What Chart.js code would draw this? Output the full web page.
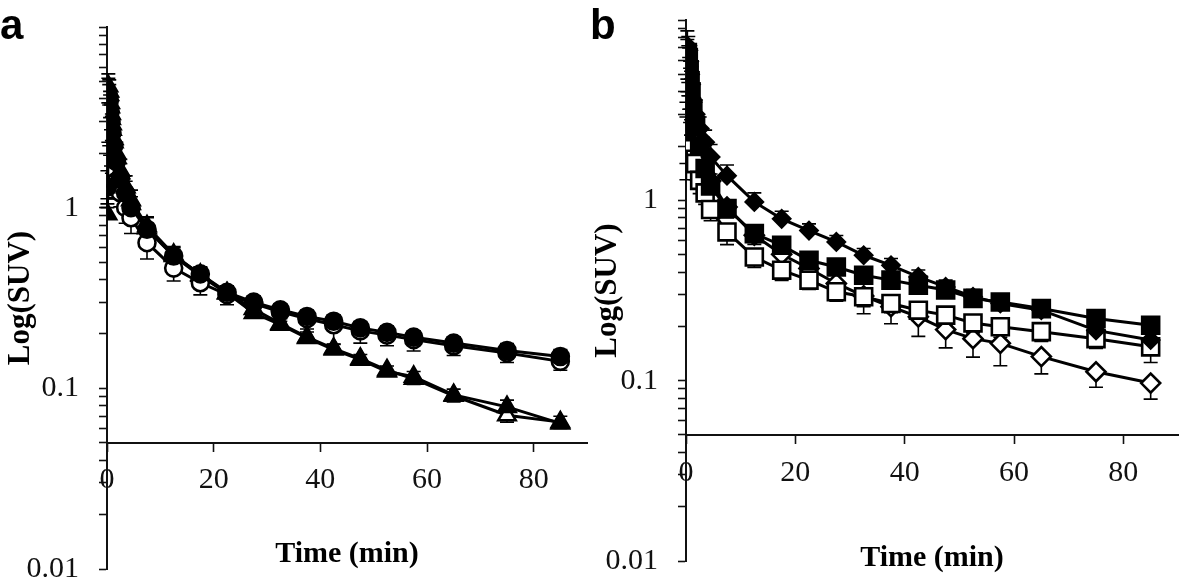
<!DOCTYPE html>
<html>
<head>
<meta charset="utf-8">
<script src="https://cdn.jsdelivr.net/npm/chart.js@4.4.1/dist/chart.umd.min.js"></script>
<style>
  html, body { margin: 0; padding: 0; background: #fff; }
  #wrap { position: relative; width: 1181px; height: 583px; overflow: hidden; background: #fff; }
  .panel { position: absolute; top: 0; height: 583px; }
  .letter { position: absolute; font-family: "Liberation Sans", Arial, sans-serif; font-weight: bold; font-size: 42px; line-height: 42px; color: #000; }
</style>
</head>
<body>
<div id="wrap">
  <div class="panel" style="left:0;width:590px;"><canvas id="chartA" width="590" height="583"></canvas></div>
  <div class="panel" style="left:590px;width:591px;"><canvas id="chartB" width="591" height="583"></canvas></div>
  <div class="letter" style="left:0px;top:4px;">a</div>
  <div class="letter" style="left:590px;top:4px;">b</div>
</div>
<script>
// ---------- data ----------
const times = [0.08, 0.25, 0.42, 0.58, 0.75, 0.92, 1.25, 1.75, 2.5, 3.5, 4.5, 7.5, 12.5, 17.5, 22.5, 27.5, 32.5, 37.5, 42.5, 47.5, 52.5, 57.5, 65, 75, 85];

// panel a
const aFilledCircle = [1.3, 4.2, 3.9, 3.4, 3.0, 2.6, 2.2, 1.8, 1.45, 1.2, 1.0, 0.76, 0.54, 0.43, 0.34, 0.30, 0.272, 0.25, 0.235, 0.216, 0.204, 0.192, 0.178, 0.162, 0.150];
const aOpenCircle   = [1.35, 2.9, 2.7, 2.4, 2.1, 1.9, 1.6, 1.4, 1.21, 1.0, 0.88, 0.64, 0.463, 0.384, 0.33, 0.295, 0.265, 0.243, 0.225, 0.208, 0.197, 0.186, 0.172, 0.157, 0.141];
const aFilledTri    = [0.92, 4.7, 4.4, 3.8, 3.3, 2.9, 2.4, 2.0, 1.6, 1.3, 1.1, 0.79, 0.55, 0.426, 0.337, 0.261, 0.225, 0.19, 0.164, 0.144, 0.124, 0.116, 0.092, 0.079, 0.064];
const aOpenTri      = [1.2, 4.4, 4.2, 3.6, 3.1, 2.7, 2.3, 1.9, 1.55, 1.25, 1.05, 0.77, 0.54, 0.42, 0.335, 0.275, 0.228, 0.192, 0.166, 0.146, 0.126, 0.113, 0.091, 0.071, 0.065];
const aFilledCircleErr = [0.3, 1.0, 0.9, 0.8, 0.7, 0.6, 0.5, 0.4, 0.3, 0.2, 0.15, 0.12, 0.06, 0.04, 0.03, 0.025, 0.022, 0.02, 0.02, 0.018, 0.017, 0.016, 0.015, 0.015, 0.014];
const aOpenCircleErr   = [0.3, 0.6, 0.5, 0.45, 0.4, 0.35, 0.3, 0.25, 0.2, 0.18, 0.16, 0.12, 0.07, 0.055, 0.04, 0.035, 0.03, 0.03, 0.05, 0.03, 0.025, 0.025, 0.02, 0.018, 0.015];
const aFilledTriErr    = [0.2, 0.8, 0.7, 0.6, 0.5, 0.4, 0.35, 0.3, 0.25, 0.2, 0.15, 0.1, 0.06, 0.04, 0.025, 0.02, 0.018, 0.015, 0.012, 0.01, 0.009, 0.008, 0.007, 0.007, 0.006];
const aOpenTriErr      = [0.2, 0.6, 0.5, 0.45, 0.4, 0.35, 0.3, 0.25, 0.2, 0.15, 0.12, 0.08, 0.05, 0.03, 0.02, 0.018, 0.015, 0.012, 0.01, 0.009, 0.008, 0.008, 0.007, 0.006, 0.005];

// panel b
const bFilledDiamond = [3.0, 7.2, 6.8, 5.9, 5.0, 4.4, 3.6, 3.0, 2.5, 2.1, 1.74, 1.37, 0.98, 0.79, 0.68, 0.588, 0.496, 0.436, 0.376, 0.331, 0.292, 0.268, 0.246, 0.19, 0.168];
const bFilledSquare  = [2.4, 6.6, 6.2, 5.3, 4.6, 4.0, 3.2, 2.6, 2.0, 1.5, 1.2, 0.9, 0.654, 0.563, 0.465, 0.427, 0.384, 0.361, 0.338, 0.318, 0.286, 0.273, 0.251, 0.221, 0.203];
const bOpenSquare    = [1.6, 4.8, 4.5, 3.8, 3.2, 2.7, 2.1, 1.6, 1.29, 1.1, 0.89, 0.668, 0.485, 0.41, 0.361, 0.311, 0.292, 0.268, 0.246, 0.231, 0.209, 0.199, 0.187, 0.171, 0.154];
const bOpenDiamond   = [1.9, 5.5, 5.2, 4.4, 3.7, 3.2, 2.5, 2.0, 1.6, 1.4, 1.28, 0.918, 0.64, 0.502, 0.419, 0.346, 0.295, 0.257, 0.226, 0.192, 0.171, 0.161, 0.136, 0.112, 0.097];
const bFilledDiamondErr = [0.5, 1.5, 1.3, 1.1, 0.9, 0.8, 0.6, 0.5, 0.4, 0.35, 0.3, 0.2, 0.12, 0.08, 0.06, 0.05, 0.045, 0.04, 0.035, 0.03, 0.028, 0.025, 0.022, 0.02, 0.018];
const bFilledSquareErr  = [0.5, 1.2, 1.0, 0.9, 0.8, 0.7, 0.5, 0.4, 0.3, 0.25, 0.2, 0.1, 0.06, 0.05, 0.04, 0.035, 0.03, 0.03, 0.028, 0.025, 0.022, 0.02, 0.02, 0.018, 0.016];
const bOpenSquareErr    = [0.3, 0.8, 0.7, 0.6, 0.5, 0.4, 0.35, 0.3, 0.2, 0.15, 0.12, 0.1, 0.06, 0.05, 0.04, 0.035, 0.035, 0.03, 0.03, 0.028, 0.025, 0.025, 0.022, 0.02, 0.028];
const bOpenDiamondErr   = [0.3, 0.8, 0.7, 0.6, 0.5, 0.4, 0.35, 0.3, 0.25, 0.2, 0.15, 0.12, 0.07, 0.06, 0.05, 0.05, 0.06, 0.05, 0.05, 0.04, 0.036, 0.04, 0.027, 0.02, 0.018];

// axes
const xTicks = [0, 20, 40, 60, 80];
const yTicks = [0.01, 0.02, 0.03, 0.04, 0.05, 0.06, 0.07, 0.08, 0.09,
                0.1, 0.2, 0.3, 0.4, 0.5, 0.6, 0.7, 0.8, 0.9,
                1, 2, 3, 4, 5, 6, 7, 8, 9, 10];
const yLabelTicks = ['0.01', '0.1', '1'];
const xTitle = 'Time (min)';
const yTitle = 'Log(SUV)';

// ---------- helpers ----------
function pts(ys) { return times.map((t, i) => ({ x: t, y: ys[i] })); }

function series(ys, errs, errDir, style, filled, radius) {
  return {
    data: pts(ys),
    errors: errs,
    errDir: errDir,
    borderColor: '#000',
    backgroundColor: filled ? '#000' : '#fff',
    borderWidth: 3,
    pointStyle: style,
    pointRadius: radius,
    pointBorderWidth: 2.6,
    pointBorderColor: '#000',
    pointBackgroundColor: filled ? '#000' : '#fff',
    tension: 0,
    fill: false
  };
}

const errorBars = {
  id: 'errorBars',
  beforeDatasetsDraw(chart) {
    const { ctx } = chart;
    const xs = chart.scales.x, ys = chart.scales.y;
    ctx.save();
    ctx.strokeStyle = '#000';
    ctx.lineWidth = 1.6;
    chart.data.datasets.forEach((ds, i) => {
      if (!chart.isDatasetVisible(i) || !ds.errors) return;
      ds.data.forEach((p, j) => {
        const e = ds.errors[j];
        const px = xs.getPixelForValue(p.x);
        const py0 = ys.getPixelForValue(p.y);
        const py1 = ys.getPixelForValue(p.y + ds.errDir * e);
        ctx.beginPath();
        ctx.moveTo(px, py0); ctx.lineTo(px, py1);
        ctx.moveTo(px - 7, py1); ctx.lineTo(px + 7, py1);
        ctx.stroke();
      });
    });
    ctx.restore();
  }
};

const serif = '"Liberation Serif", "Times New Roman", serif';

function makeOptions(cfg) {
  return {
    responsive: false,
    animation: false,
    devicePixelRatio: 1,
    layout: { padding: cfg.padding, autoPadding: false },
    plugins: { legend: { display: false }, tooltip: { enabled: false } },
    scales: {
      x: {
        type: 'linear',
        min: 0, max: 90,
        position: { y: 0.05 },
        afterBuildTicks(scale) { scale.ticks = xTicks.map(v => ({ value: v })); },
        afterFit(scale) { scale.height = cfg.xAxisHeight; scale.paddingLeft = 0; scale.paddingRight = 0; },
        border: { display: true, color: '#111', width: 2 },
        grid: { display: true, drawOnChartArea: false, drawTicks: true, tickLength: 8, tickColor: '#111', tickWidth: 1.6 },
        ticks: {
          autoSkip: false, maxRotation: 0, padding: cfg.xTickPad, color: '#111',
          font: { family: serif, size: 30 },
          callback: (v) => String(v)
        },
        title: {
          display: true, text: xTitle, color: '#000', padding: 0,
          font: { family: serif, size: 30, weight: 'bold', lineHeight: 1.2 }
        }
      },
      y: {
        type: 'logarithmic',
        min: 0.01, max: 10,
        position: 'left',
        afterBuildTicks(scale) { scale.ticks = yTicks.map(v => ({ value: v })); },
        afterFit(scale) { scale.width = cfg.yAxisWidth; scale.paddingTop = 0; scale.paddingBottom = 0; },
        border: { display: true, color: '#111', width: 2 },
        grid: { display: true, drawOnChartArea: false, drawTicks: true, tickLength: 8, tickColor: '#111', tickWidth: 1.6 },
        ticks: {
          autoSkip: false, padding: 20, color: '#111',
          font: { family: serif, size: 30 },
          callback: (v) => {
            const s = String(+v.toPrecision(6));
            return yLabelTicks.includes(s) ? s : '';
          }
        },
        title: {
          display: true, text: yTitle, color: '#000', padding: { top: cfg.yTitlePad, bottom: 0 },
          font: { family: serif, size: 31, weight: 'bold', lineHeight: 1.0 }
        }
      }
    }
  };
}

new Chart(document.getElementById('chartA'), {
  type: 'line',
  data: {
    datasets: [
      series(aFilledCircle, aFilledCircleErr, 1, 'circle', true, 8.5),
      series(aFilledTri, aFilledTriErr, 1, 'triangle', true, 10),
      series(aOpenCircle, aOpenCircleErr, -1, 'circle', false, 8.5),
      series(aOpenTri, aOpenTriErr, -1, 'triangle', false, 10)
    ]
  },
  options: makeOptions({ padding: { left: 0, top: 27, right: 3, bottom: 14 }, yAxisWidth: 107, xAxisHeight: 130, xTickPad: 11, yTitlePad: 5 }),
  plugins: [errorBars]
});

new Chart(document.getElementById('chartB'), {
  type: 'line',
  data: {
    datasets: [
      series(bFilledSquare, bFilledSquareErr, 1, 'rect', true, 12),
      series(bFilledDiamond, bFilledDiamondErr, 1, 'rectRot', true, 8.5),
      series(bOpenSquare, bOpenSquareErr, -1, 'rect', false, 12),
      series(bOpenDiamond, bOpenDiamondErr, -1, 'rectRot', false, 9.5)
    ]
  },
  options: makeOptions({ padding: { left: 0, top: 20, right: 3, bottom: 22 }, yAxisWidth: 96, xAxisHeight: 141, xTickPad: 12, yTitlePad: 2 }),
  plugins: [errorBars]
});
</script>
</body>
</html>
